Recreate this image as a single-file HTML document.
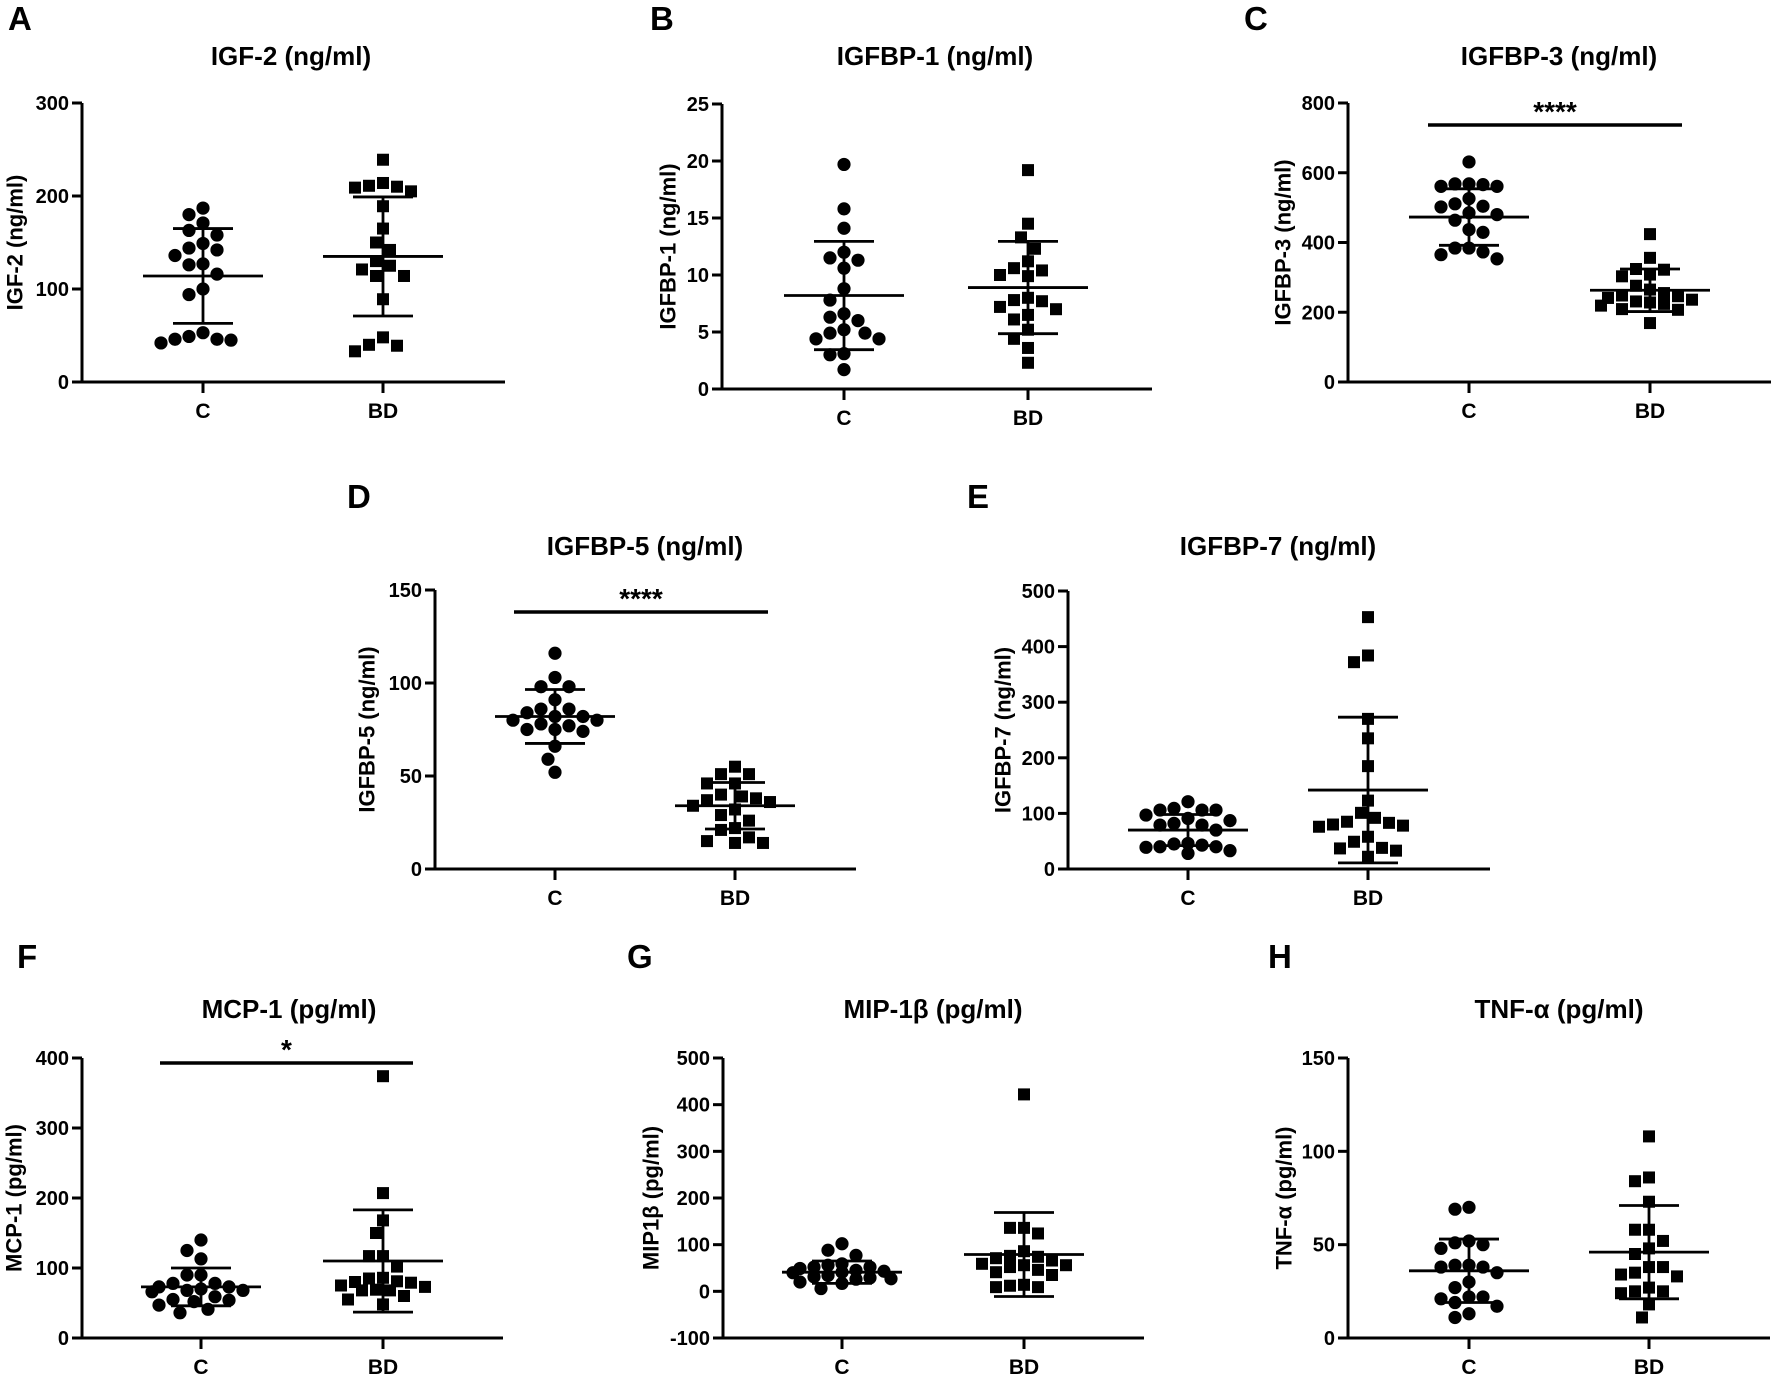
<!DOCTYPE html>
<html><head><meta charset="utf-8"><style>
html,body{margin:0;padding:0;background:#fff}
svg{display:block}
text{font-family:"Liberation Sans",Arial,sans-serif;font-weight:bold;fill:#000}
</style></head><body>
<svg id="fig" width="1772" height="1375" xmlns="http://www.w3.org/2000/svg"></svg>
<script>
const categories=["C","BD"];
// A IGF-2
const igf2C=[187,180,171,163,158,149,144,142,136,127,126,116,100,94,53,49,46,46,45,42];
const igf2BD=[239,214,211,210,209,205,189,165,150,142,130,125,121,114,114,89,48,40,39,33];
const igf2Mean=[114,135];const igf2SD=[51,64];
// B IGFBP-1
const bp1C=[19.7,15.8,14.1,12.0,11.5,11.3,10.6,8.8,7.8,6.6,6.3,6.0,5.2,4.9,4.9,4.4,4.4,3.1,3.0,1.7];
const bp1BD=[19.2,14.5,13.3,12.3,11.2,10.6,10.4,10.0,9.9,8.0,7.8,7.7,7.2,7.0,6.5,6.1,5.2,4.4,3.6,2.3];
const bp1Mean=[8.2,8.9];const bp1SD=[4.75,4.05];
// C IGFBP-3
const bp3C=[631,568,568,566,561,561,526,511,504,502,485,480,464,437,429,384,384,373,365,353];
const bp3BD=[424,356,324,322,308,303,276,265,255,248,246,241,236,231,228,224,219,209,207,169];
const bp3Mean=[473,263];const bp3SD=[81,61];
// D IGFBP-5
const bp5C=[116,103,98,98,91,86,86,84,82,82,80,80,78,77,75,75,74,66,59,52];
const bp5BD=[55,51,51,46,46,40,39,38,37,36,34,32,29,26,22,21,17,15,14,14];
const bp5Mean=[82,34];const bp5SD=[14.5,12.5];
// E IGFBP-7
const bp7C=[121,109,106,106,106,97,91,87,82,79,79,70,46,45,43,40,40,39,33,28];
const bp7BD=[453,384,372,270,235,185,123,101,92,85,83,80,78,76,58,49,38,37,33,22];
const bp7Mean=[70,142];const bp7SD=[28,131];
// F MCP-1
const mcpC=[140,125,113,90,90,78,78,73,73,70,68,68,66,59,55,54,52,47,41,36];
const mcpBD=[374,207,168,150,117,117,102,86,85,81,80,79,75,73,69,68,68,60,55,48];
const mcpMean=[73,110];const mcpSD=[27,73];
// G MIP-1b
const mipC=[102,88,77,59,56,52,52,49,45,43,41,40,34,31,29,27,26,20,17,6];
const mipBD=[422,136,136,124,86,76,74,71,66,59,56,56,52,46,41,35,14,12,9,9];
const mipMean=[41,79];const mipSD=[24,90];
// H TNF-a
const tnfC=[70,69,52,51,50,48,39,39,38,38,35,30,27,22,22,21,19,17,13,11];
const tnfBD=[108,86,84,73,58,58,52,48,45,38,38,35,34,33,27,25,25,24,18,11];
const tnfMean=[36,46];const tnfSD=[17,25];
// tick values
const ticksA=[0,100,200,300],ticksB=[0,5,10,15,20,25],ticksC=[0,200,400,600,800],ticksD=[0,50,100,150],
ticksE=[0,100,200,300,400,500],ticksF=[0,100,200,300,400],ticksG=[-100,0,100,200,300,400,500],ticksH=[0,50,100,150];

const panels=[
{id:"a",letter:"A",lx:8,ly:30,title:"IGF-2 (ng/ml)",ytitle:"IGF-2 (ng/ml)",tx:291,ty:65,ax:82,aend:505,ytop:103,ybot:382,cx:[203,383],min:0,max:300,ticks:ticksA,ytx:15,c:igf2C,b:igf2BD,m:igf2Mean,s:igf2SD},
{id:"b",letter:"B",lx:650,ly:30,title:"IGFBP-1 (ng/ml)",ytitle:"IGFBP-1 (ng/ml)",tx:935,ty:65,ax:722,aend:1152,ytop:104,ybot:389,cx:[844,1028],min:0,max:25,ticks:ticksB,ytx:668,c:bp1C,b:bp1BD,m:bp1Mean,s:bp1SD},
{id:"c",letter:"C",lx:1244,ly:30,title:"IGFBP-3 (ng/ml)",ytitle:"IGFBP-3 (ng/ml)",tx:1559,ty:65,ax:1348,aend:1771,ytop:103,ybot:382,cx:[1469,1650],min:0,max:800,ticks:ticksC,ytx:1283,c:bp3C,b:bp3BD,m:bp3Mean,s:bp3SD,sig:{x1:1428,x2:1682,y:125,t:"****"}},
{id:"d",letter:"D",lx:347,ly:508,title:"IGFBP-5 (ng/ml)",ytitle:"IGFBP-5 (ng/ml)",tx:645,ty:555,ax:435,aend:856,ytop:590,ybot:869,cx:[555,735],min:0,max:150,ticks:ticksD,ytx:367,c:bp5C,b:bp5BD,m:bp5Mean,s:bp5SD,sig:{x1:514,x2:768,y:612,t:"****"}},
{id:"e",letter:"E",lx:967,ly:508,title:"IGFBP-7 (ng/ml)",ytitle:"IGFBP-7 (ng/ml)",tx:1278,ty:555,ax:1068,aend:1490,ytop:591,ybot:869,cx:[1188,1368],min:0,max:500,ticks:ticksE,ytx:1003,c:bp7C,b:bp7BD,m:bp7Mean,s:bp7SD},
{id:"f",letter:"F",lx:17,ly:968,title:"MCP-1 (pg/ml)",ytitle:"MCP-1 (pg/ml)",tx:289,ty:1018,ax:82,aend:503,ytop:1058,ybot:1338,cx:[201,383],min:0,max:400,ticks:ticksF,ytx:14,c:mcpC,b:mcpBD,m:mcpMean,s:mcpSD,sig:{x1:160,x2:413,y:1063,t:"*"}},
{id:"g",letter:"G",lx:627,ly:968,title:"MIP-1\u03b2 (pg/ml)",ytitle:"MIP1\u03b2 (pg/ml)",tx:933,ty:1018,ax:723,aend:1144,ytop:1058,ybot:1338,cx:[842,1024],min:-100,max:500,ticks:ticksG,ytx:651,c:mipC,b:mipBD,m:mipMean,s:mipSD},
{id:"h",letter:"H",lx:1268,ly:968,title:"TNF-\u03b1 (pg/ml)",ytitle:"TNF-\u03b1 (pg/ml)",tx:1559,ty:1018,ax:1348,aend:1770,ytop:1058,ybot:1338,cx:[1469,1649],min:0,max:150,ticks:ticksH,ytx:1284,c:tnfC,b:tnfBD,m:tnfMean,s:tnfSD}
];
const NS="http://www.w3.org/2000/svg";
const fig=document.getElementById('fig');
function mk(tag,attrs,parent,txt){const e=document.createElementNS(NS,tag);for(const k in attrs)e.setAttribute(k,attrs[k]);if(txt!==undefined)e.textContent=txt;parent.appendChild(e);return e;}
function swarm(vals,yf,cx,d,maxOff){
  const idx=vals.map((v,i)=>i).sort((a,b)=>vals[b]-vals[a]);const placed=[];const out=new Array(vals.length);
  idx.forEach(i=>{const y=yf(vals[i]);let best=cx,bestScore=Infinity;
    for(let s=0;s<40;s++){const off=(s===0?0:Math.ceil(s/2)*(s%2?-1:1))*d*0.5;if(Math.abs(off)>maxOff)break;const x=cx+off;
      let ov=0;placed.forEach(p=>{const dd=Math.hypot(p[0]-x,p[1]-y);if(dd<d)ov+=d-dd;});
      const score=ov*10+Math.abs(off)*0.01;
      if(score<bestScore){bestScore=score;best=x;}
      if(ov===0)break;}
    placed.push([best,y]);out[i]=[best,y];});
  return out;}
panels.forEach(p=>{
  const g=mk('g',{},fig);
  
  
  const y=v=>p.ybot-(v-p.min)/(p.max-p.min)*(p.ybot-p.ytop);
  const L=mk('text',{x:p.lx,y:p.ly,'font-size':33},g,p.letter);
  
  const T=mk('text',{x:p.tx,y:p.ty,'font-size':26,'text-anchor':'middle'},g,p.title);
  
  const ym=(p.ytop+p.ybot)/2;
  const YT=mk('text',{x:p.ytx,y:ym,'font-size':22,'text-anchor':'middle','dominant-baseline':'central',transform:`rotate(-90 ${p.ytx} ${ym})`},g,p.ytitle);
  
  const ya=mk('line',{x1:p.ax,y1:p.ytop,x2:p.ax,y2:p.ybot,stroke:'#000','stroke-width':3},g);
  
  const xa=mk('line',{x1:p.ax-10,y1:p.ybot,x2:p.aend,y2:p.ybot,stroke:'#000','stroke-width':3},g);
  
  p.ticks.forEach(t=>{const ty=y(t);
    mk('line',{x1:p.ax-10,y1:ty,x2:p.ax,y2:ty,stroke:'#000','stroke-width':3},g);
    const tl=mk('text',{x:p.ax-13,y:ty+7,'font-size':20,'text-anchor':'end'},g,String(t));
    });
  categories.forEach((c,i)=>{
    mk('line',{x1:p.cx[i],y1:p.ybot,x2:p.cx[i],y2:p.ybot+11,stroke:'#000','stroke-width':3},g);
    const cl=mk('text',{x:p.cx[i],y:p.ybot+36,'font-size':21,'text-anchor':'middle'},g,c);
    });
  swarm(p.c,y,p.cx[0],14,50).forEach(([px,py])=>{const e=mk('circle',{cx:px,cy:py,r:6.6,fill:'#000'},g);
    });
  swarm(p.b,y,p.cx[1],14,50).forEach(([px,py])=>{const e=mk('rect',{x:px-6,y:py-6,width:12,height:12,fill:'#000'},g);
    });
  [0,1].forEach(i=>{const cx=p.cx[i];const eg=mk('g',{stroke:'#000','stroke-width':2.8},g);
    
    mk('line',{x1:cx-60,x2:cx+60,y1:y(p.m[i]),y2:y(p.m[i])},eg);
    mk('line',{x1:cx,x2:cx,y1:y(p.m[i]+p.s[i]),y2:y(p.m[i]-p.s[i])},eg);
    mk('line',{x1:cx-30,x2:cx+30,y1:y(p.m[i]+p.s[i]),y2:y(p.m[i]+p.s[i])},eg);
    mk('line',{x1:cx-30,x2:cx+30,y1:y(p.m[i]-p.s[i]),y2:y(p.m[i]-p.s[i])},eg);});
  if(p.sig){const sl=mk('line',{x1:p.sig.x1,x2:p.sig.x2,y1:p.sig.y,y2:p.sig.y,stroke:'#000','stroke-width':3.5},g);
    
    const st=mk('text',{x:(p.sig.x1+p.sig.x2)/2,y:p.sig.y-4,'font-size':28,'text-anchor':'middle'},g,p.sig.t);
    }
});
</script>
</body></html>
